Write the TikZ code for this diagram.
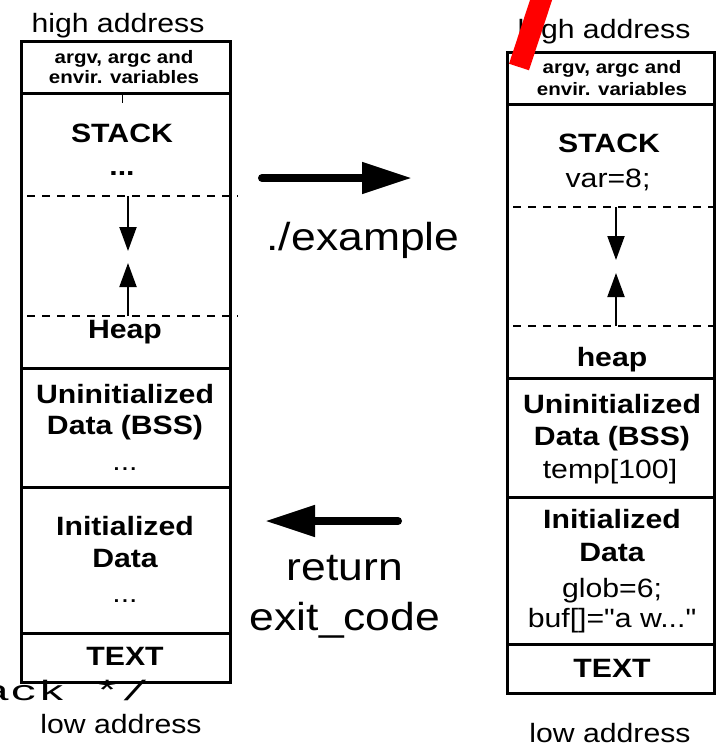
\documentclass[tikz,border=0pt]{standalone}
\usepackage{fontspec}
\setmainfont{Liberation Sans}[FakeStretch=1.14, Ligatures=TeXOff]
\newfontfamily\codefont{Liberation Mono}[FakeStretch=1.65]
\usepackage{tikz}
\usetikzlibrary{arrows.meta}
\usetikzlibrary{positioning}

\tikzset{
  seg/.style={line width=3pt},
  heapline/.style={line width=1.5pt, dash pattern=on 8pt off 7pt},
  growarrow/.style={line width=2pt, -{Triangle[length=24pt,width=17pt]}},
  bigarrow/.style={line width=8pt, line cap=round, -{Triangle[length=50pt,width=30pt]}},
  lbl/.style={anchor=base, inner sep=0pt, font=\bfseries\fontsize{26.5}{30}\selectfont},
  small/.style={anchor=base, inner sep=0pt, font=\bfseries\fontsize{18}{20}\selectfont},
  val/.style={anchor=base, inner sep=0pt, font=\fontsize{26.5}{30}\selectfont},
  cmd/.style={anchor=base, inner sep=0pt, font=\fontsize{39}{44}\selectfont}
}

\begin{document}
\begin{tikzpicture}[x=1pt, y=-1pt, line join=miter]
  \useasboundingbox (0,0) rectangle (717,745);
  %--- Program on disk
    \draw[seg] (21,41) rectangle (230,682);
    \foreach \y in {93,368,487,633}
      \draw[seg] (21,\y) -- ++(209,0);
    \draw[line width=1pt] (122,93) -- ++(0,10);
    \draw[heapline] (27,196) -- ++(211,0);
    \draw[heapline] (27,316) -- ++(211,0);
    \node[val] (lhigh) at (118,32) {high address};
    \node[small] (largv) at (124,63) {argv, argc and};
    \node[small] (lenv) at (124,83) {envir. variables};
    \node[lbl] (lstack) at (122,142) {STACK};
    \node[lbl] (lsdots) at (122,175) {...};
    \node[lbl] (lheap) at (125,338) {Heap};
    \node[lbl] (lbss) at (125,403) {Uninitialized};
    \node[lbl] (lbss2) at (125,434) {Data (BSS)};
    \node[val] (lbdots) at (125,470) {...};
    \node[lbl] (ldata) at (125,535) {Initialized};
    \node[lbl] (ldata2) at (125,567) {Data};
    \node[val] (lddots) at (125,602) {...};
    \node[lbl] (ltext) at (125,665) {TEXT};
    \node[val] (llow) at (121,733) {low address};
    \node[anchor=base east, inner sep=0pt, font=\codefont\fontsize{28}{32}\selectfont] (lcode) at (149,700) {ack */};
  %--- Stack and heap growth (left)
    \coordinate (lsTop) at (128,196);
    \coordinate (lsTip) at (128,251);
    \coordinate (lhBot) at (128,316);
    \coordinate (lhTip) at (128,263);
    \draw[growarrow] (lsTop) -- (lsTip);
    \draw[growarrow] (lhBot) -- (lhTip);
  %--- Running process
    \draw[seg] (507,52) rectangle (714,693);
    \foreach \y in {104,378,497,644}
      \draw[seg] (507,\y) -- ++(207,0);
    \draw[heapline] (513,207) -- ++(204,0);
    \draw[heapline] (513,326) -- ++(204,0);
    \node[val] (rhigh) at (604,38) {high address};
    \node[small] (rargv) at (612,73) {argv, argc and};
    \node[small] (renv) at (612,95) {envir. variables};
    \node[lbl] (rstack) at (609,152) {STACK};
    \node[val] (rvar) at (608,187) {var=8;};
    \node[lbl] (rheap) at (612,366) {heap};
    \node[lbl] (rbss) at (612,413) {Uninitialized};
    \node[lbl] (rbss2) at (612,445) {Data (BSS)};
    \node[val] (rtemp) at (610,478) {temp[100]};
    \node[lbl] (rdata) at (612,528) {Initialized};
    \node[lbl] (rdata2) at (612,561) {Data};
    \node[val] (rglob) at (612,597) {glob=6;};
    \node[val] (rbuf) at (612,627) {buf[]="a w..."};
    \node[lbl] (rtext) at (612,677) {TEXT};
    \node[val] (rlow) at (610,742) {low address};
  %--- Stack and heap growth (right)
    \coordinate (rsTop) at (616,207);
    \coordinate (rsTip) at (616,260);
    \coordinate (rhBot) at (616,326);
    \coordinate (rhTip) at (616,273);
    \draw[growarrow] (rsTop) -- (rsTip);
    \draw[growarrow] (rhBot) -- (rhTip);
  %--- Run and return
    \coordinate (runFrom) at (262,178);
    \coordinate (runTo) at (412,178);
    \draw[bigarrow] (runFrom) -- (runTo);
    \node[cmd] (run) at (363,250) {./example};
    \coordinate (retFrom) at (398,521);
    \coordinate (retTo) at (265,521);
    \draw[bigarrow] (retFrom) -- (retTo);
    \node[cmd] (ret) at (345,580) {return};
    \node[cmd] (retcode) at (345,630) {exit\_code};
  %--- Red mark
    \draw[red, line width=21pt] (519,67) -- (546,-15);
\end{tikzpicture}
\end{document}
